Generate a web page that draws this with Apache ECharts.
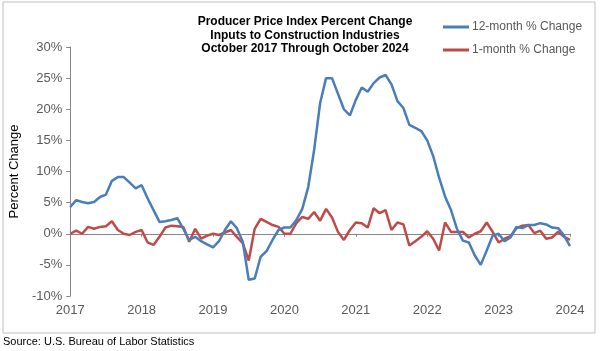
<!DOCTYPE html>
<html>
<head>
<meta charset="utf-8">
<script src="https://cdn.jsdelivr.net/npm/echarts@6/dist/echarts.min.js"></script>
<style>
html,body{margin:0;padding:0;background:#fff;}
#chart{width:600px;height:351px;}
</style>
</head>
<body>
<div id="chart"></div>
<script>
// Monthly categories: October 2017 through October 2024
const startYear = 2017, startMonth = 10, monthCount = 85;
const months = [];
for (let k = 0; k < monthCount; k++) {
  const t = startMonth - 1 + k;
  months.push((startYear + Math.floor(t / 12)) + '-' + String(t % 12 + 1).padStart(2, '0'));
}

const seriesNames = ['12-month % Change', '1-month % Change'];

const twelveMonth = [
  4.3, 5.4, 5.1, 4.9, 5.1, 5.9, 6.3, 8.5, 9.1, 9.1,
  8.2, 7.3, 7.8, 5.7, 3.8, 1.9, 2.0, 2.2, 2.5, 0.8,
  -1.0, -0.5, -1.2, -1.7, -2.2, -1.2, 0.6, 2.0, 0.9, -1.3,
  -7.4, -7.2, -3.7, -2.8, -1.0, 0.6, 1.0, 1.0, 2.2, 4.0,
  7.5, 13.5, 21.0, 25.0, 25.0, 22.5, 20.0, 19.0, 21.5, 23.5,
  22.8, 24.2, 25.1, 25.5, 24.0, 21.3, 20.2, 17.5, 17.0, 16.5,
  15.0, 12.5, 9.0, 6.0, 3.8, 0.8, -1.1, -1.4, -3.5, -5.0,
  -2.7, -0.3, 0.0, -1.2, -0.6, 1.1, 0.9, 1.4, 1.4, 1.7,
  1.5, 1.0, 0.9, -0.3, -2.0
];

const oneMonth = [
  0.0, 0.5, 0.0, 1.1, 0.8, 1.1, 1.2, 2.0, 0.6, 0.0,
  -0.2, 0.3, 0.6, -1.4, -1.8, -0.5, 1.0, 1.3, 1.2, 1.1,
  -1.3, 0.8, -0.8, -0.3, 0.0, -0.2, 0.2, 0.6, -0.5, -1.5,
  -4.3, 0.8, 2.4, 1.9, 1.4, 1.1, 0.0, 0.0, 1.7, 2.7,
  2.4, 3.5, 2.1, 4.0, 2.6, 0.3, -1.0, 0.6, 1.8, 1.7,
  1.0, 4.1, 3.3, 3.8, 0.6, 1.8, 1.5, -1.9, -1.2, -0.5,
  0.4, -0.8, -2.7, 1.8, 0.3, 0.3, 0.3, -0.6, 0.0, 0.4,
  1.8, 0.3, -1.4, -0.8, -0.4, 0.9, 1.3, 1.4, 0.1, 0.5,
  -0.8, -0.6, 0.3, -0.5, -1.0
];

const yMin = -10, yMax = 30, yStep = 5;
const titleLines = ['Producer Price Index Percent Change', 'Inputs to Construction Industries', 'October 2017 Through October 2024'];
const yAxisTitle = 'Percent Change';
const sourceNote = 'Source: U.S. Bureau of Labor Statistics';

const FONT = '"Liberation Sans", Arial, sans-serif';
const BLUE = '#4A7EBB', RED = '#BE4B48', AXIS = '#868686', TXT = '#595959';

const chart = echarts.init(document.getElementById('chart'), null, {renderer: 'canvas'});
chart.setOption({
  animation: false,
  backgroundColor: '#fff',
  textStyle: {fontFamily: FONT},
  title: {
    text: titleLines.join('\n'),
    left: 300, top: 10, textAlign: 'center',
    textStyle: {fontFamily: FONT, fontSize: 12, fontWeight: 'bold', color: '#000', lineHeight: 13.5}
  },
  legend: {
    orient: 'vertical', left: 438, top: 16,
    icon: 'rect', itemWidth: 26, itemHeight: 3, itemGap: 11,
    textStyle: {fontFamily: FONT, fontSize: 12, color: TXT, padding: [0, 0, 0, -2]},
    data: seriesNames
  },
  grid: {left: 55, right: 30, top: 47, bottom: 55, containLabel: false},
  xAxis: [{
    type: 'category', data: months, boundaryGap: false,
    axisLine: {show: false, onZero: false},
    axisTick: {show: false},
    axisLabel: {
      interval: 11, margin: 8, fontFamily: FONT, fontSize: 13, color: TXT,
      formatter: v => v.slice(0, 4)
    }
  }, {
    type: 'category', data: months, boundaryGap: false, position: 'bottom',
    axisLine: {show: true, onZero: true, lineStyle: {color: AXIS, width: 1}},
    axisTick: {show: true, interval: 11, length: 3, lineStyle: {color: AXIS}},
    axisLabel: {show: false}
  }],
  yAxis: {
    type: 'value', min: yMin, max: yMax, interval: yStep,
    name: yAxisTitle, nameLocation: 'middle', nameGap: 35, nameRotate: 90,
    nameTextStyle: {fontFamily: FONT, fontSize: 13, color: '#000'},
    axisLine: {show: true, lineStyle: {color: AXIS, width: 1}},
    axisTick: {show: true, length: 4, lineStyle: {color: AXIS}},
    splitLine: {show: false},
    axisLabel: {formatter: '{value}%', margin: 8, fontFamily: FONT, fontSize: 13, color: TXT}
  },
  series: [{
    name: seriesNames[0], type: 'line', data: twelveMonth, xAxisIndex: 0,
    symbol: 'none', lineStyle: {color: BLUE, width: 2.5}, itemStyle: {color: BLUE}, z: 3
  }, {
    name: seriesNames[1], type: 'line', data: oneMonth, xAxisIndex: 0,
    symbol: 'none', lineStyle: {color: RED, width: 2.5}, itemStyle: {color: RED}, z: 2
  }],
  graphic: [{
    type: 'rect', shape: {x: 3, y: 2, width: 592, height: 331},
    style: {fill: 'none', stroke: '#BFBFBF', lineWidth: 1}, silent: true, z: -1
  }, {
    type: 'text', left: 3, top: 336,
    style: {text: sourceNote, fontFamily: FONT, fontSize: 11, fill: '#000'}
  }]
});
</script>
</body>
</html>
